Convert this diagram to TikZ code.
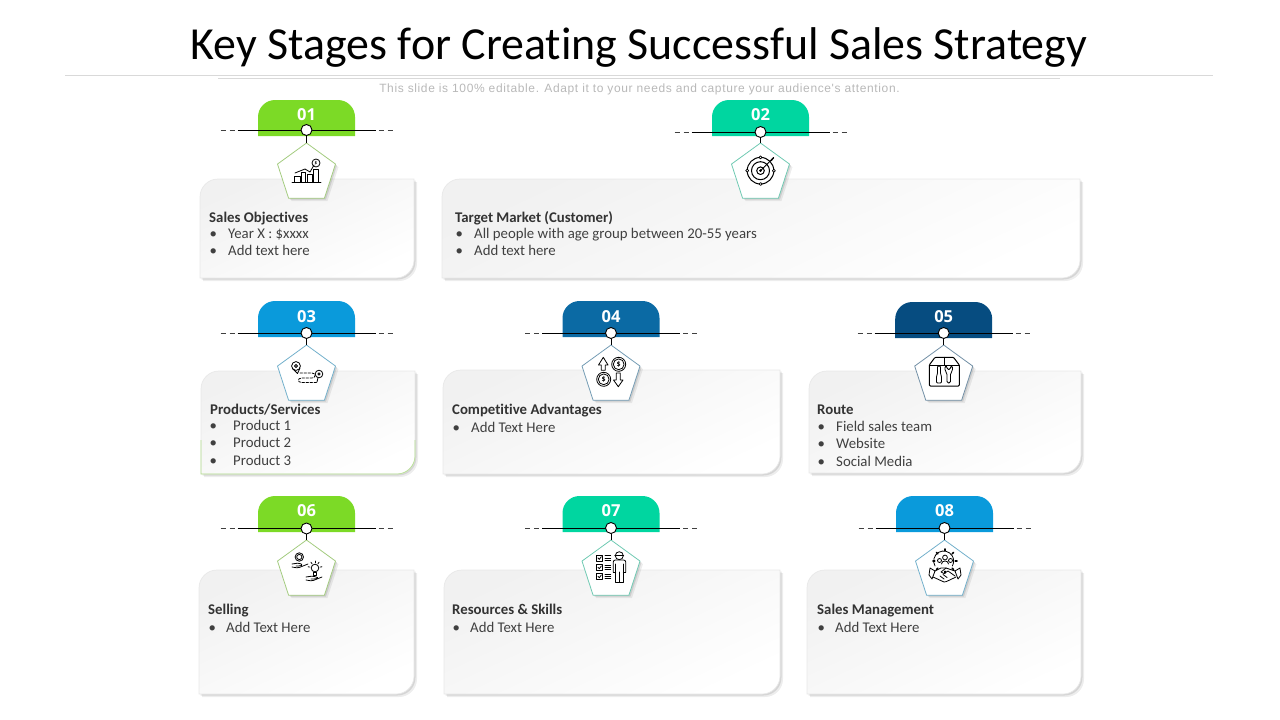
\documentclass[tikz,border=0pt]{standalone}
\usepackage{fontspec}
\setmainfont[Ligatures=NoCommon]{Carlito}
\newfontfamily\subfont[LetterSpace=5.25]{Liberation Sans}
\newfontfamily\numfont{Open Sans}
\usetikzlibrary{shapes.geometric}
\usetikzlibrary{shadows}
\definecolor{limegreen}{RGB}{124,218,38}
\definecolor{seateal}{RGB}{0,214,160}
\definecolor{skyblue}{RGB}{10,154,219}
\definecolor{midblue}{RGB}{11,106,164}
\definecolor{navyblue}{RGB}{6,76,128}
\definecolor{cardedge}{RGB}{232,232,232}
\definecolor{cardgrey}{RGB}{241,241,241}
\definecolor{cardtext}{RGB}{64,64,64}
\tikzset{
	headlabel/.style={anchor=base west,inner sep=0pt,font=\fontsize{14.8}{16}\selectfont\bfseries,text=black!80},
	itemlabel/.style={anchor=base west,inner sep=0pt,font=\fontsize{14.8}{16}\selectfont,text=cardtext},
	numlabel/.style={inner sep=0pt,font=\fontsize{16.5}{18}\numfont\bfseries,text=white},
	dotnode/.style={circle,draw=black,fill=white,line width=0.9pt,minimum size=11pt,inner sep=0pt},
	softshadow/.style={drop shadow={shadow xshift=3pt,shadow yshift=-3pt,opacity=0.07,fill=black},
		drop shadow={shadow xshift=1.5pt,shadow yshift=-1.5pt,opacity=0.1,fill=black}},
	pentanode/.style={regular polygon,regular polygon sides=5,minimum size=61pt,inner sep=0pt,fill=white,line width=0.8pt,softshadow},
	iconline/.style={line width=0.8pt,black,line cap=round,line join=round},
	coinlabel/.style={inner sep=0pt,font=\fontsize{8}{8}\selectfont\bfseries,text=black}
}
\begin{document}
\begin{tikzpicture}[x=1pt,y=-1pt,line cap=butt]
	\useasboundingbox (0,0) rectangle (1280,720);
	\node[inner sep=0pt,font=\fontsize{45.9}{48}\selectfont] (title) at (639,47.5) {Key Stages for Creating Successful Sales Strategy};
	\coordinate (ruleaL) at (65,75.5);
	\coordinate (ruleaR) at (1213,75.5);
	\coordinate (rulebL) at (218,78.5);
	\coordinate (rulebR) at (1060,78.5);
	\draw[black!15,line width=0.8pt] (ruleaL) -- (ruleaR);
	\draw[black!15,line width=0.8pt] (rulebL) -- (rulebR);
	\node[inner sep=0pt,font=\fontsize{12}{14}\subfont,text=black!28] (subtitle) at (639.5,89) {This slide is 100\% editable. Adapt it to your needs and capture your audience's attention.};
	% cards
	\foreach \xa/\ya/\xb/\yb in {200/179/414/278,442/179/1080/278,201/371/415/474,443/370/780/474,809/371/1081/473,199/570/414/694,444/570/780/694,807/570/1081/694}
	\draw[draw=cardedge,line width=0.7pt,top color=cardgrey,bottom color=white,shading angle=25,softshadow]
		(\xa,\yb) -- (\xa,\ya+18) arc[start angle=180,end angle=270,radius=18] -- (\xb,\ya) -- (\xb,\yb-18) arc[start angle=0,end angle=90,radius=18] -- cycle;
	\draw[limegreen!45!cardedge,line width=0.7pt] (201,440) -- (201,474) -- (397,474) arc[start angle=90,end angle=0,radius=18] -- (415,440);
	% stages
	\foreach \n/\xc/\yl/\yt/\yp/\yn/\col in {01/306.5/130/100/143/114.5/limegreen,02/760.5/132/100/143/114.5/seateal,03/306.5/333/301/345/317/skyblue,04/611/333/301/345/317/midblue,05/943.7/333/302/345/317/navyblue,06/306.5/528.5/496/540/511/limegreen,07/611/528/496/540/511/seateal,08/944.5/528/496/540/511/skyblue}{
		\fill[\col] (\xc-48.5,\yt+36) -- (\xc-48.5,\yt+17) arc[start angle=180,end angle=270,radius=17] -- (\xc+31.5,\yt) arc[start angle=270,end angle=360,radius=17] -- (\xc+48.5,\yt+36) -- cycle;
		\node[numlabel] (num\n) at (\xc,\yn) {\n};
		\coordinate (lineL\n) at (\xc-69,\yl);
		\coordinate (lineR\n) at (\xc+69,\yl);
		\coordinate (dashaL\n) at (\xc-86,\yl);
		\coordinate (dashbL\n) at (\xc-72,\yl);
		\coordinate (dashaR\n) at (\xc+72,\yl);
		\coordinate (dashbR\n) at (\xc+86,\yl);
		\draw[black,line width=1pt] (lineL\n) -- (lineR\n);
		\draw[black!75,line width=0.8pt,dash pattern=on 5pt off 4pt] (dashaL\n) -- (dashbL\n);
		\draw[black!75,line width=0.8pt,dash pattern=on 5pt off 4pt] (dashaR\n) -- (dashbR\n);
		\node[pentanode,draw=\col!60!gray!70!white] (penta\n) at (\xc,\yp+30.5) {};
		\node[dotnode] (dot\n) at (\xc,\yl) {};
		\draw[black,line width=1pt] (dot\n) -- (penta\n.corner 1);
	}
	% card headings
	\foreach \x/\y/\t [count=\i] in {209/222/Sales Objectives,455/222/Target Market (Customer),210/414/{Products/Services},452/414/Competitive Advantages,817/414/Route,208/614/Selling,452/614/Resources \& Skills,817/614/Sales Management}
	\node[headlabel] (head\i) at (\x,\y) {\t};
	% bullet items
	\foreach \xb/\xt/\y/\t [count=\i] in {209.5/228/238/Year X : \$xxxx,209.5/228/255/Add text here,455.5/474/238/All people with age group between 20-55 years,455.5/474/255/Add text here,209.5/233/430/Product 1,209.5/233/447/Product 2,209.5/233/465/Product 3,452.5/471/432/Add Text Here,817.5/836/431/Field sales team,817.5/836/448/Website,817.5/836/466/Social Media,208.5/226/632/Add Text Here,452.5/470/632/Add Text Here,817.5/835/632/Add Text Here}{
		\node[itemlabel] (bul\i) at (\xb,\y) {\textbullet};
		\node[itemlabel] (item\i) at (\xt,\y) {\t};
	}
	% icon 01 chart
	\begin{scope}[shift={(306,173)},iconline]
		\draw (-14,9) -- (15,9);
		\draw (-12,9) -- (-12,3) -- (-6,3) -- (-6,9);
		\draw (-5,9) -- (-5,-1) -- (-1,-1) -- (-1,9);
		\draw (1,9) -- (1,1) -- (6,1) -- (6,9);
		\draw (7,9) -- (7,-4) -- (12,-4) -- (12,9);
		\draw (-11,0) -- (-1,-4) -- (4,-1) -- (8,-8);
		\draw (10,-10) circle[radius=4];
		\node[coinlabel,font=\fontsize{5}{5}\selectfont\bfseries] (coin1) at (10,-10) {\$};
	\end{scope}
	% icon 02 target
	\begin{scope}[shift={(760.5,170.7)},iconline,line width=1pt]
		\draw (0,0) circle[radius=13.3];
		\draw (0,0) circle[radius=9];
		\draw (0,0) circle[radius=3.8];
		\fill (0,0) circle[radius=1.5];
		\foreach \a in {0,90,180,270}
		\draw[fill=white,line width=0.7pt] (\a:13.3) circle[radius=1.5];
		\draw (0,0) -- (12,-12);
		\draw[line width=1.4pt] (10.5,-10) -- (13,-13);
	\end{scope}
	% icon 03 route
	\begin{scope}[shift={(307,373)},iconline]
		\draw (-11,-7) circle[radius=4.4];
		\draw (-11,-7) circle[radius=1.5];
		\draw (-14.5,-4.5) -- (-9.5,0.5) -- (-7,-5);
		\draw (12,1) circle[radius=3.8];
		\draw (12,1) circle[radius=1.2];
		\draw (11,4.6) -- (10,9);
		\draw[dash pattern=on 2.5pt off 1.5pt] (-7,0) -- (5,0) .. controls (9,0) and (9,5) .. (5,5) -- (-5,5) .. controls (-10,5) and (-10,9.5) .. (-5,9.5) -- (10,9.5);
	\end{scope}
	% icon 04 coins and arrows
	\begin{scope}[shift={(611,372)},iconline]
		\draw (-9.7,-1.8) -- (-9.7,-7) -- (-12.5,-7) -- (-7.7,-14.7) -- (-3,-7) -- (-5.7,-7) -- (-5.7,-1.8) -- cycle;
		\draw (5.3,1) -- (5.3,8) -- (2.5,8) -- (7.3,14.7) -- (12,8) -- (9.3,8) -- (9.3,1) -- cycle;
		\draw (7.7,-7.7) circle[radius=7];
		\draw (7.7,-7.7) circle[radius=5.4];
		\draw (-7.3,7.3) circle[radius=7];
		\draw (-7.3,7.3) circle[radius=5.4];
		\node[coinlabel] (coin4a) at (7.7,-7.7) {\$};
		\node[coinlabel] (coin4b) at (-7.3,7.3) {\$};
	\end{scope}
	% icon 05 box with tools
	\begin{scope}[shift={(944,372)},iconline,line width=1pt]
		\draw[rounded corners=1pt] (-14.7,-7) -- (-14.7,14) -- (15.3,14) -- (15.3,-7) -- (9.5,-14.7) -- (-9,-14.7) -- cycle;
		\draw (-14.7,-7) -- (15.3,-7);
		\draw (0.3,-14.7) -- (0.3,-7);
		\draw[line width=0.8pt,rounded corners=1pt] (-6.5,-6) -- (-3.5,-6) -- (-3.5,2) -- (-2.5,4) -- (-2.5,11) -- (-7.5,11) -- (-7.5,4) -- (-6.5,2) -- cycle;
		\draw[line width=0.8pt,rounded corners=1.5pt] (1,-6) -- (1,-1) -- (3,1) -- (3,11) -- (6.5,11) -- (6.5,1) -- (8.5,-1) -- (8.5,-6) -- (6.5,-6) -- (6.5,-2.5) -- (3,-2.5) -- (3,-6) -- cycle;
	\end{scope}
	% icon 06 hands
	\begin{scope}[shift={(306,569)},iconline]
		\draw (-6.7,-12) circle[radius=4.2];
		\draw (-6.7,-12) circle[radius=2.6];
		\draw[rounded corners=1.5pt] (-14,-5) -- (-7,-6) -- (-3,-4) -- (-6,-3) -- (-10,-3);
		\draw[rounded corners=1.5pt] (-14,-2) -- (-8,-1) -- (2,-5);
		\draw (9,-1) circle[radius=3.8];
		\draw (7.5,3) -- (10.5,3) -- (10.5,6) -- (7.5,6) -- cycle;
		\foreach \a in {-170,-125,-90,-55,-10}
		\draw[shift={(9,-1)}] (\a:5.2) -- (\a:7);
		\draw[rounded corners=1.5pt] (0,8) -- (7,7) -- (13,9) -- (9,10) -- (5,10);
		\draw[rounded corners=1.5pt] (0,11) -- (6,12) -- (16,8);
	\end{scope}
	% icon 07 checklist and person
	\begin{scope}[shift={(611,569)},iconline]
		\foreach \y in {-14,-4.7,4.3}{
			\draw (-14.7,\y) rectangle (-8.3,\y+6.3);
			\draw (-13,\y+3) -- (-11.7,\y+4.4) -- (-9.7,\y+1.7);
			\foreach \d in {0.8,3.1,5.4}
			\draw (-6,\y+\d) -- (-0.3,\y+\d);
		}
		\draw (8.3,-13.3) circle[radius=4];
		\draw (3.7,-14) -- (12.7,-14);
		\draw[rounded corners=2pt] (2.3,3) -- (2.3,-9) -- (14.7,-9) -- (14.7,3);
		\draw (4.7,-5) -- (4.7,13.3) -- (12.3,13.3) -- (12.3,-5);
		\draw (8.5,3) -- (8.5,13.3);
		\draw (2.3,3) -- (4.7,3);
		\draw (12.3,3) -- (14.7,3);
	\end{scope}
	% icon 08 gear and handshake
	\begin{scope}[shift={(945,569)},iconline]
		\foreach \a in {0,45,...,315}
		\draw[shift={(0,-8)},line width=1.6pt] (\a:10.3) -- (\a:12);
		\draw (-10,-3) arc[start angle=150,end angle=390,radius=10];
		\draw (0,-11.5) circle[radius=2.4];
		\draw (-5.5,-8.5) circle[radius=2];
		\draw (5.5,-8.5) circle[radius=2];
		\draw (-3.5,-5) .. controls (-3.5,-9) and (3.5,-9) .. (3.5,-5);
		\draw (-15,-1) -- (-10,2) -- (-13,10) -- (-16,6) -- cycle;
		\draw (15,-1) -- (10,2) -- (13,10) -- (16,6) -- cycle;
		\draw (-10,2) -- (-4,-1) -- (1,-1) -- (10,2);
		\draw (-12,8) -- (-1,13) -- (1.5,12.5) -- (11,8);
		\draw (1,-1) -- (-4,3) -- (-1,4.5) -- (3,2) -- (10,7);
		\draw (-5,7) -- (-1,10);
		\draw (-2,5.5) -- (2,8.5);
	\end{scope}
\end{tikzpicture}
\end{document}
